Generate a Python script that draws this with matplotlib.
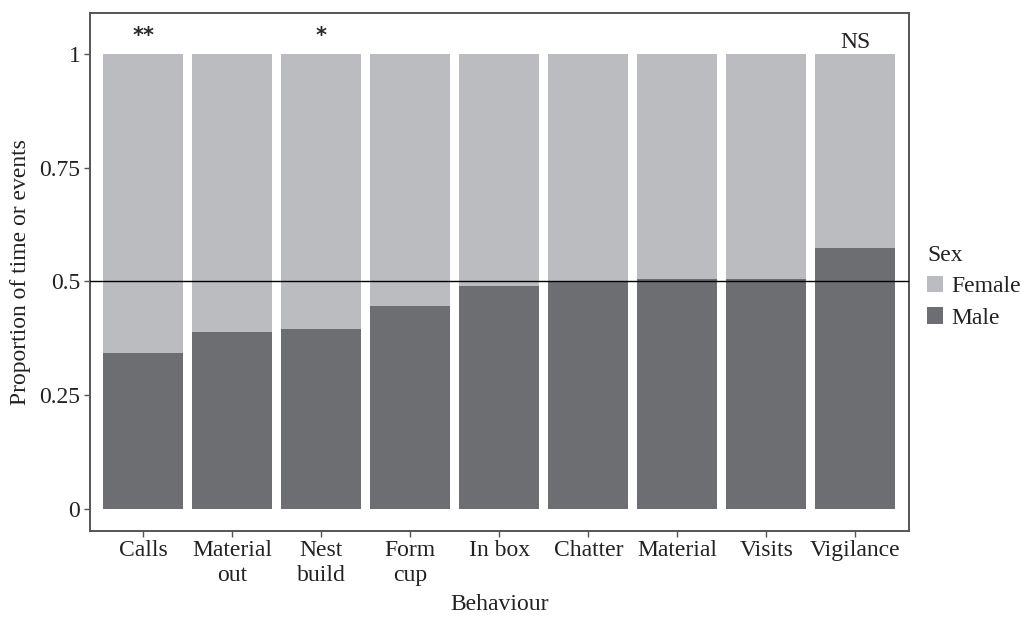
import matplotlib
matplotlib.use("Agg")
import matplotlib.pyplot as plt
import numpy as np

# Behaviours and the male share of time/events for each
behaviours = ["Calls", "Material\nout", "Nest\nbuild", "Form\ncup", "In box",
              "Chatter", "Material", "Visits", "Vigilance"]
male_share = [0.343, 0.389, 0.396, 0.446, 0.490, 0.499, 0.505, 0.505, 0.574]
female_share = [1 - m for m in male_share]
significance = ["**", "", "*", "", "", "", "", "", "NS"]
y_ticks = [0, 0.25, 0.5, 0.75, 1]
y_tick_labels = ["0", "0.25", "0.5", "0.75", "1"]

female_colour = "#BBBCC0"
male_colour = "#6D6E72"
frame_colour = "#555555"
text_colour = "#222222"

plt.rcParams["font.family"] = ["Liberation Serif", "DejaVu Serif"]
plt.rcParams["font.size"] = 17

fig = plt.figure(figsize=(10.22, 6.17), dpi=100)
ax = fig.add_axes([0.0881, 0.1399, 0.8010, 0.8390])

x = np.arange(len(behaviours))
male_bars = ax.bar(x, male_share, width=0.9, color=male_colour, label="Male")
female_bars = ax.bar(x, female_share, width=0.9, bottom=male_share,
                     color=female_colour, label="Female")

ax.axhline(0.5, color="black", lw=1.0, zorder=3)

for xi, s in zip(x, significance):
    if not s:
        continue
    if s == "NS":
        ax.text(xi, 1.012, s, ha="center", va="baseline", fontsize=17,
                color=text_colour)
    else:
        ax.text(xi, 1.04, s, ha="center", va="center", fontsize=15,
                family="DejaVu Sans", fontweight="bold", color="#2a2a2a")

ax.set_xlim(-0.6, len(behaviours) - 0.4)
ax.set_ylim(-0.048, 1.09)
ax.set_xticks(x)
ax.set_xticklabels(behaviours, linespacing=1.22)
ax.set_yticks(y_ticks)
ax.set_yticklabels(y_tick_labels)

for side in ["top", "right", "bottom", "left"]:
    ax.spines[side].set_color(frame_colour)
    ax.spines[side].set_linewidth(1.4)
ax.tick_params(axis="both", direction="out", length=4, width=1,
               color=frame_colour, pad=3, labelcolor=text_colour)

ax.set_ylabel("Proportion of time or events", color=text_colour, labelpad=6)
ax.set_xlabel("Behaviour", color=text_colour, labelpad=6)

leg = ax.legend(handles=[female_bars, male_bars], labels=["Female", "Male"],
                title="Sex", loc="center left",
                bbox_to_anchor=(0.907, 0.535), bbox_transform=fig.transFigure,
                frameon=False, handlelength=0.68, handleheight=0.68,
                handletextpad=0.35, labelspacing=0.42, borderpad=0,
                borderaxespad=0, alignment="left", fontsize=17,
                title_fontsize=17)
for t in leg.get_texts():
    t.set_color(text_colour)
leg.get_title().set_color(text_colour)

fig.savefig("out.png", dpi=100)
